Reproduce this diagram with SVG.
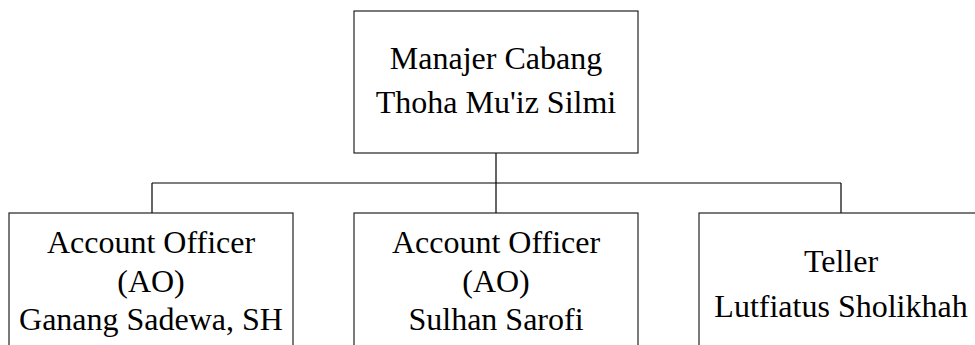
<svg xmlns="http://www.w3.org/2000/svg" width="975" height="345" viewBox="0 0 975 345">
<style>
.box{fill:#fff;stroke:#222;stroke-width:1.2}
.t{font-family:"Liberation Serif","Times New Roman",serif;font-size:32px;fill:#000;text-anchor:middle}
.c{stroke:#000;stroke-width:1.2;fill:none}
</style>
<rect width="975" height="345" fill="#fff"/>
<g id="connectors">
<path class="c" d="M496 153V183M152 183H841M152 183V213M496 183V213M841 183V213"/>
</g>
<g id="manajer">
<rect class="box" x="354" y="11" width="284" height="142"/>
<text class="t" x="496" y="69">Manajer Cabang</text>
<text class="t" x="496" y="113">Thoha Mu'iz Silmi</text>
</g>
<g id="ao1">
<rect class="box" x="9" y="213" width="284" height="150"/>
<text class="t" x="151" y="253">Account Officer</text>
<text class="t" x="151" y="292">(AO)</text>
<text class="t" x="151" y="330">Ganang Sadewa, SH</text>
</g>
<g id="ao2">
<rect class="box" x="354" y="213" width="284" height="150"/>
<text class="t" x="496" y="253">Account Officer</text>
<text class="t" x="496" y="292">(AO)</text>
<text class="t" x="496" y="330">Sulhan Sarofi</text>
</g>
<g id="teller">
<rect class="box" x="699" y="213" width="284" height="150"/>
<text class="t" x="841" y="272">Teller</text>
<text class="t" x="841" y="317">Lutfiatus Sholikhah</text>
</g>
</svg>
